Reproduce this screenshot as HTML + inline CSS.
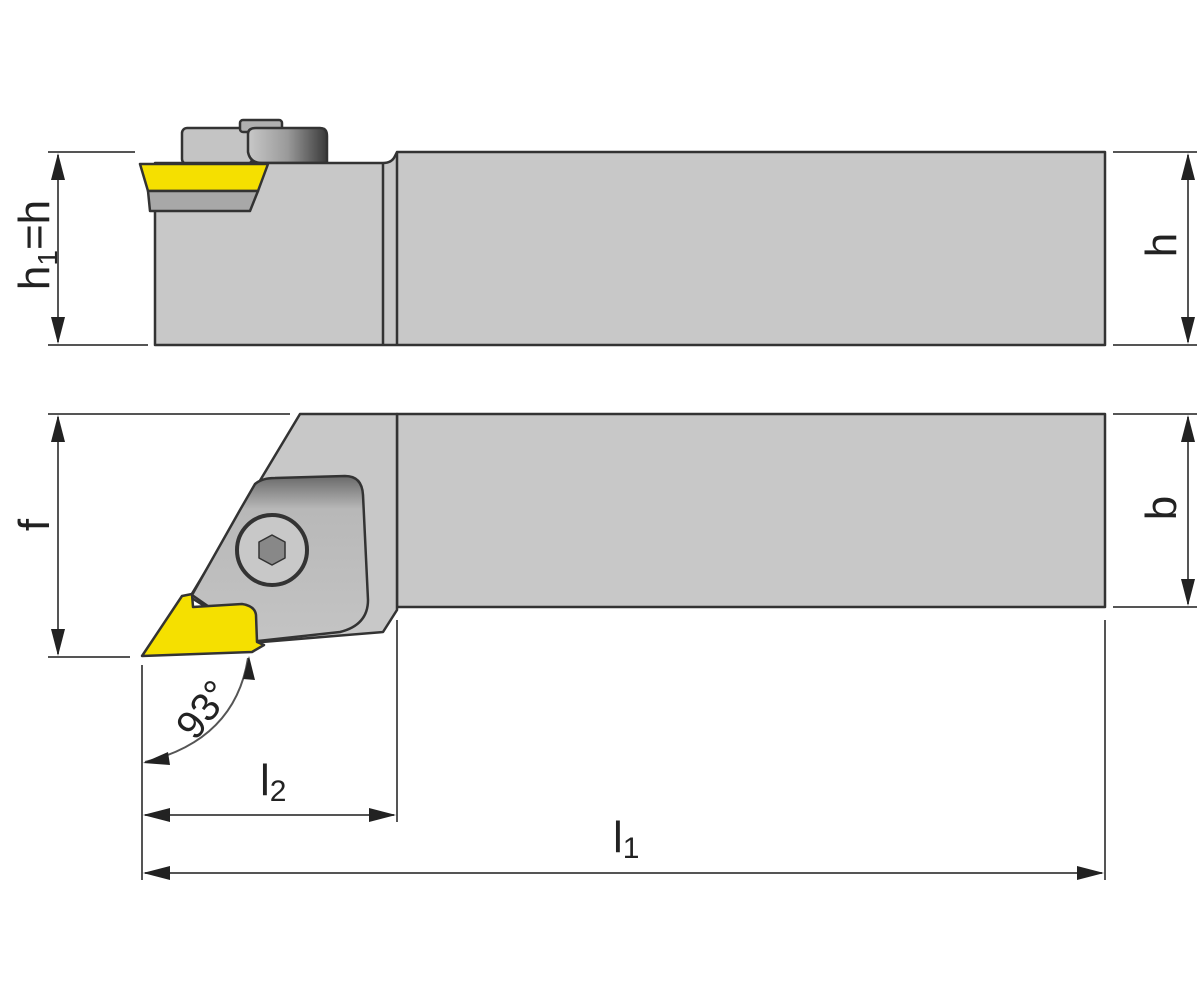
<!DOCTYPE html>
<html><head><meta charset="utf-8"><style>
html,body{margin:0;padding:0;background:#fff;}
svg{display:block;}
text{font-family:"Liberation Sans",sans-serif;fill:#222;}
</style></head><body>
<svg width="1200" height="1000" viewBox="0 0 1200 1000">
<defs>
<linearGradient id="clampG" x1="0" x2="1" y1="0" y2="0">
<stop offset="0" stop-color="#c8c8c8"/><stop offset="0.5" stop-color="#9a9a9a"/><stop offset="1" stop-color="#3a3a3a"/></linearGradient>
<linearGradient id="plateG" x1="0" x2="0" y1="0" y2="1">
<stop offset="0" stop-color="#6a6a6a"/><stop offset="0.2" stop-color="#b8b8b8"/><stop offset="1" stop-color="#c4c4c4"/></linearGradient>
</defs>
<g stroke="#333" stroke-width="2.5" stroke-linejoin="round">
<rect x="182" y="128" width="70" height="36" rx="5" fill="#c4c4c4"/>
<rect x="240" y="120" width="42" height="12" rx="3" fill="#b0b0b0"/>
<path d="M248 134 Q248 128 256 128 L320 128 Q327 128 327 136 L327 163 L262 163 Q250 163 248 152 Z" fill="url(#clampG)"/>
<path d="M155 163 L383 163 Q392 163 395 156 L397 152 L1105 152 L1105 345 L155 345 Z" fill="#c8c8c8"/>
<line x1="383" y1="163" x2="383" y2="345"/>
<line x1="397" y1="152" x2="397" y2="345"/>
<path d="M140 164 L268 164 L258 191 L148 191 Z" fill="#f5e000"/>
<path d="M148 191 L258 191 L250 211 L150 211 Z" fill="#a8a8a8"/>
<rect x="397" y="414" width="708" height="193" fill="#c8c8c8"/>
<path d="M300 414 L397 414 L397 610 L383 632 L262 642 L190 597 Z" fill="#c8c8c8"/>
<path d="M255 484 Q262 478 275 478 L345 476 Q362 476 363 495 L368 600 Q368 625 340 632 L258 641 L192 595 L240 510 Z" fill="url(#plateG)"/>
<circle cx="272" cy="550" r="35" fill="#c8c8c8" stroke-width="4"/>
<polygon points="272,535 285,542 285,558 272,565 259,558 259,542" fill="#888" stroke-width="1.5"/>
<path d="M142 656 L182 596 L192 594 L193 607 L242 604 Q255 606 256 615 L257 642 L264 645 L252 652 Z" fill="#f5e000"/>
</g>
<g stroke="#555" stroke-width="2" fill="none">
<line x1="48" y1="152" x2="135" y2="152"/><line x1="48" y1="345" x2="148" y2="345"/>
<line x1="58" y1="155" x2="58" y2="342"/>
<line x1="1113" y1="152" x2="1197" y2="152"/><line x1="1113" y1="345" x2="1197" y2="345"/>
<line x1="1188" y1="155" x2="1188" y2="342"/>
<line x1="48" y1="414" x2="290" y2="414"/><line x1="48" y1="657" x2="130" y2="657"/>
<line x1="58" y1="417" x2="58" y2="654"/>
<line x1="1113" y1="414" x2="1197" y2="414"/><line x1="1113" y1="607" x2="1197" y2="607"/>
<line x1="1188" y1="417" x2="1188" y2="604"/>
<line x1="142" y1="665" x2="142" y2="880"/>
<line x1="397" y1="620" x2="397" y2="822"/>
<line x1="1105" y1="620" x2="1105" y2="880"/>
<line x1="145" y1="815" x2="394" y2="815"/>
<line x1="145" y1="873" x2="1102" y2="873"/>
<path d="M145 762 Q235 740 248 658"/>
</g>
<g fill="#222">
<polygon points="58,153 51,180 65,180"/><polygon points="58,344 51,317 65,317"/>
<polygon points="1188,153 1181,180 1195,180"/><polygon points="1188,344 1181,317 1195,317"/>
<polygon points="58,415 51,442 65,442"/><polygon points="58,656 51,629 65,629"/>
<polygon points="1188,415 1181,442 1195,442"/><polygon points="1188,606 1181,579 1195,579"/>
<polygon points="143,815 170,808 170,822"/><polygon points="396,815 369,808 369,822"/>
<polygon points="143,873 170,866 170,880"/><polygon points="1104,873 1077,866 1077,880"/>
<polygon points="143,763 168,752 170,765"/><polygon points="249,656 243,679 255,680"/>
</g>
<text x="0" y="0" font-size="44" text-anchor="middle" transform="translate(49,245) rotate(-90)">h<tspan font-size="28" dy="8">1</tspan><tspan dy="-8">=h</tspan></text>
<text x="0" y="0" font-size="44" text-anchor="middle" transform="translate(1176,245) rotate(-90)">h</text>
<text x="0" y="0" font-size="44" text-anchor="middle" transform="translate(49,525) rotate(-90)">f</text>
<text x="0" y="0" font-size="44" text-anchor="middle" transform="translate(1176,508) rotate(-90)">b</text>
<text x="0" y="0" font-size="40" text-anchor="middle" transform="translate(214,718) rotate(-52)">93°</text>
<text x="260" y="795" font-size="44">l<tspan font-size="30" dy="6">2</tspan></text>
<text x="613" y="852" font-size="44">l<tspan font-size="30" dy="6">1</tspan></text>
</svg>
</body></html>
